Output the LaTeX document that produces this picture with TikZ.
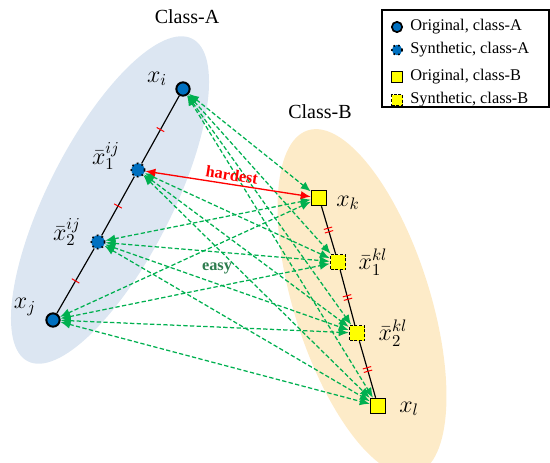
\documentclass[tikz,border=0pt]{standalone}
\usepackage{fontspec}
\setmainfont{Liberation Serif}
\usetikzlibrary{arrows.meta,decorations.markings,backgrounds}
\definecolor{ptblue}{HTML}{0070C0}
\definecolor{ellA}{HTML}{DCE6F2}
\definecolor{ellB}{HTML}{FDEBC8}
\definecolor{grn}{HTML}{00B050}
\definecolor{dgrn}{HTML}{2E7D4F}
\definecolor{ptyellow}{HTML}{FFFF00}
\begin{document}
\begin{tikzpicture}[x=0.6pt,y=-0.6pt,
  origA/.style={circle,draw=black,fill=ptblue,line width=1.2pt,minimum size=8pt,inner sep=0pt},
  synA/.style={circle,draw=black,fill=ptblue,dotted,line width=1pt,minimum size=8pt,inner sep=0pt},
  origB/.style={rectangle,draw=black,fill=ptyellow,line width=0.9pt,minimum size=9pt,inner sep=0pt},
  synB/.style={rectangle,draw=black,fill=ptyellow,dash pattern=on 1.8pt off 1pt,line width=0.9pt,minimum size=9pt,inner sep=0pt},
  lbl/.style={font=\fontsize{14}{16}\selectfont,inner sep=0pt},
  cls/.style={font=\fontsize{12}{14}\selectfont,inner sep=0pt},
  legtxt/.style={font=\fontsize{9.8}{11}\selectfont,anchor=west,inner sep=0pt},
  garrow/.style={grn,dash pattern=on 2.6pt off 1.4pt,line width=0.75pt,{Latex[length=6pt,width=5pt]}-{Latex[length=6pt,width=5pt]}},
  rarrow/.style={red,line width=0.8pt,{Latex[length=6pt,width=5pt]}-{Latex[length=6pt,width=5pt]}},
  seg/.style={black,line width=0.7pt},
  tickA/.style={postaction={decorate},decoration={markings,mark=at position 0.5 with {\draw[red,line width=0.6pt] (0,-2.6pt) -- (0,2.6pt);}}},
  tickB/.style={postaction={decorate},decoration={markings,mark=at position 0.5 with {\draw[red,line width=0.6pt] (-1.1pt,-2.6pt) -- (-1.1pt,2.6pt) (1.1pt,-2.6pt) -- (1.1pt,2.6pt);}}}
]
\useasboundingbox (0,0) rectangle (550,462);
\clip (0,0) rectangle (550,462);

% points
\node[origA] (xi) at (183,89) {};
\node[synA]  (a1) at (138,170) {};
\node[synA]  (a2) at (98,242) {};
\node[origA] (xj) at (53,320) {};
\node[origB] (xk) at (319,198) {};
\node[synB]  (b1) at (338,262) {};
\node[synB]  (b2) at (357,333) {};
\node[origB] (xl) at (378,406) {};

\begin{pgfonlayer}{background}
  \fill[ellA,rotate around={63:(110,200)}] (110,200) ellipse [x radius=181, y radius=62];
  \fill[ellB,rotate around={-72.5:(362,302)}] (362,302) ellipse [x radius=180, y radius=68];
  \draw[seg,tickA] (xi) -- (a1);
  \draw[seg,tickA] (a1) -- (a2);
  \draw[seg,tickA] (a2) -- (xj);
  \draw[seg,tickB] (xk) -- (b1);
  \draw[seg,tickB] (b1) -- (b2);
  \draw[seg,tickB] (b2) -- (xl);
  \foreach \a/\b in {xi/xk,xi/b1,xi/b2,xi/xl,a1/b1,a1/b2,a1/xl,a2/xk,a2/b1,a2/b2,a2/xl,xj/xk,xj/b1,xj/b2,xj/xl}
    \draw[garrow] (\a) -- (\b);
  \draw[rarrow] (a1) -- (xk);
\end{pgfonlayer}

% labels
\node[lbl] (lxi) at (157,79) {$x_i$};
\node[lbl] (la1) at (106,156) {$\bar{x}_1^{ij}$};
\node[lbl] (la2) at (67,232) {$\bar{x}_2^{ij}$};
\node[lbl] (lxj) at (25,307) {$x_j$};
\node[lbl] (lxk) at (348,203) {$x_k$};
\node[lbl] (lb1) at (373,262) {$\bar{x}_1^{kl}$};
\node[lbl] (lb2) at (393,333) {$\bar{x}_2^{kl}$};
\node[lbl] (lxl) at (409,409) {$x_l$};

\node[cls] (clA) at (187,17) {Class-A};
\node[cls] (clB) at (320,112) {Class-B};

\node[red,font=\fontsize{9.8}{11}\selectfont\bfseries,rotate=-9,inner sep=0pt] (hard) at (232,175) {hardest};
\node[dgrn,font=\fontsize{9.8}{11}\selectfont\bfseries,inner sep=0pt] (easy) at (217,268) {easy};

% legend
\node[draw=black,line width=0.8pt,minimum width=100.2pt,minimum height=58.2pt,inner sep=0pt] (legend) at (465.5,58.5) {};
\node[origA,minimum size=6.2pt,line width=1pt] (m1) at (397,27) {};
\node[synA,minimum size=6.2pt] (m2) at (397,50) {};
\node[origB,minimum size=6.6pt,line width=0.8pt] (m3) at (397,77) {};
\node[synB,minimum size=6.6pt,line width=0.8pt] (m4) at (397,100) {};
\node[legtxt] (t1) at (410,27) {Original, class-A};
\node[legtxt] (t2) at (410,50) {Synthetic, class-A};
\node[legtxt] (t3) at (410,77) {Original, class-B};
\node[legtxt] (t4) at (410,100) {Synthetic, class-B};
\end{tikzpicture}
\end{document}
